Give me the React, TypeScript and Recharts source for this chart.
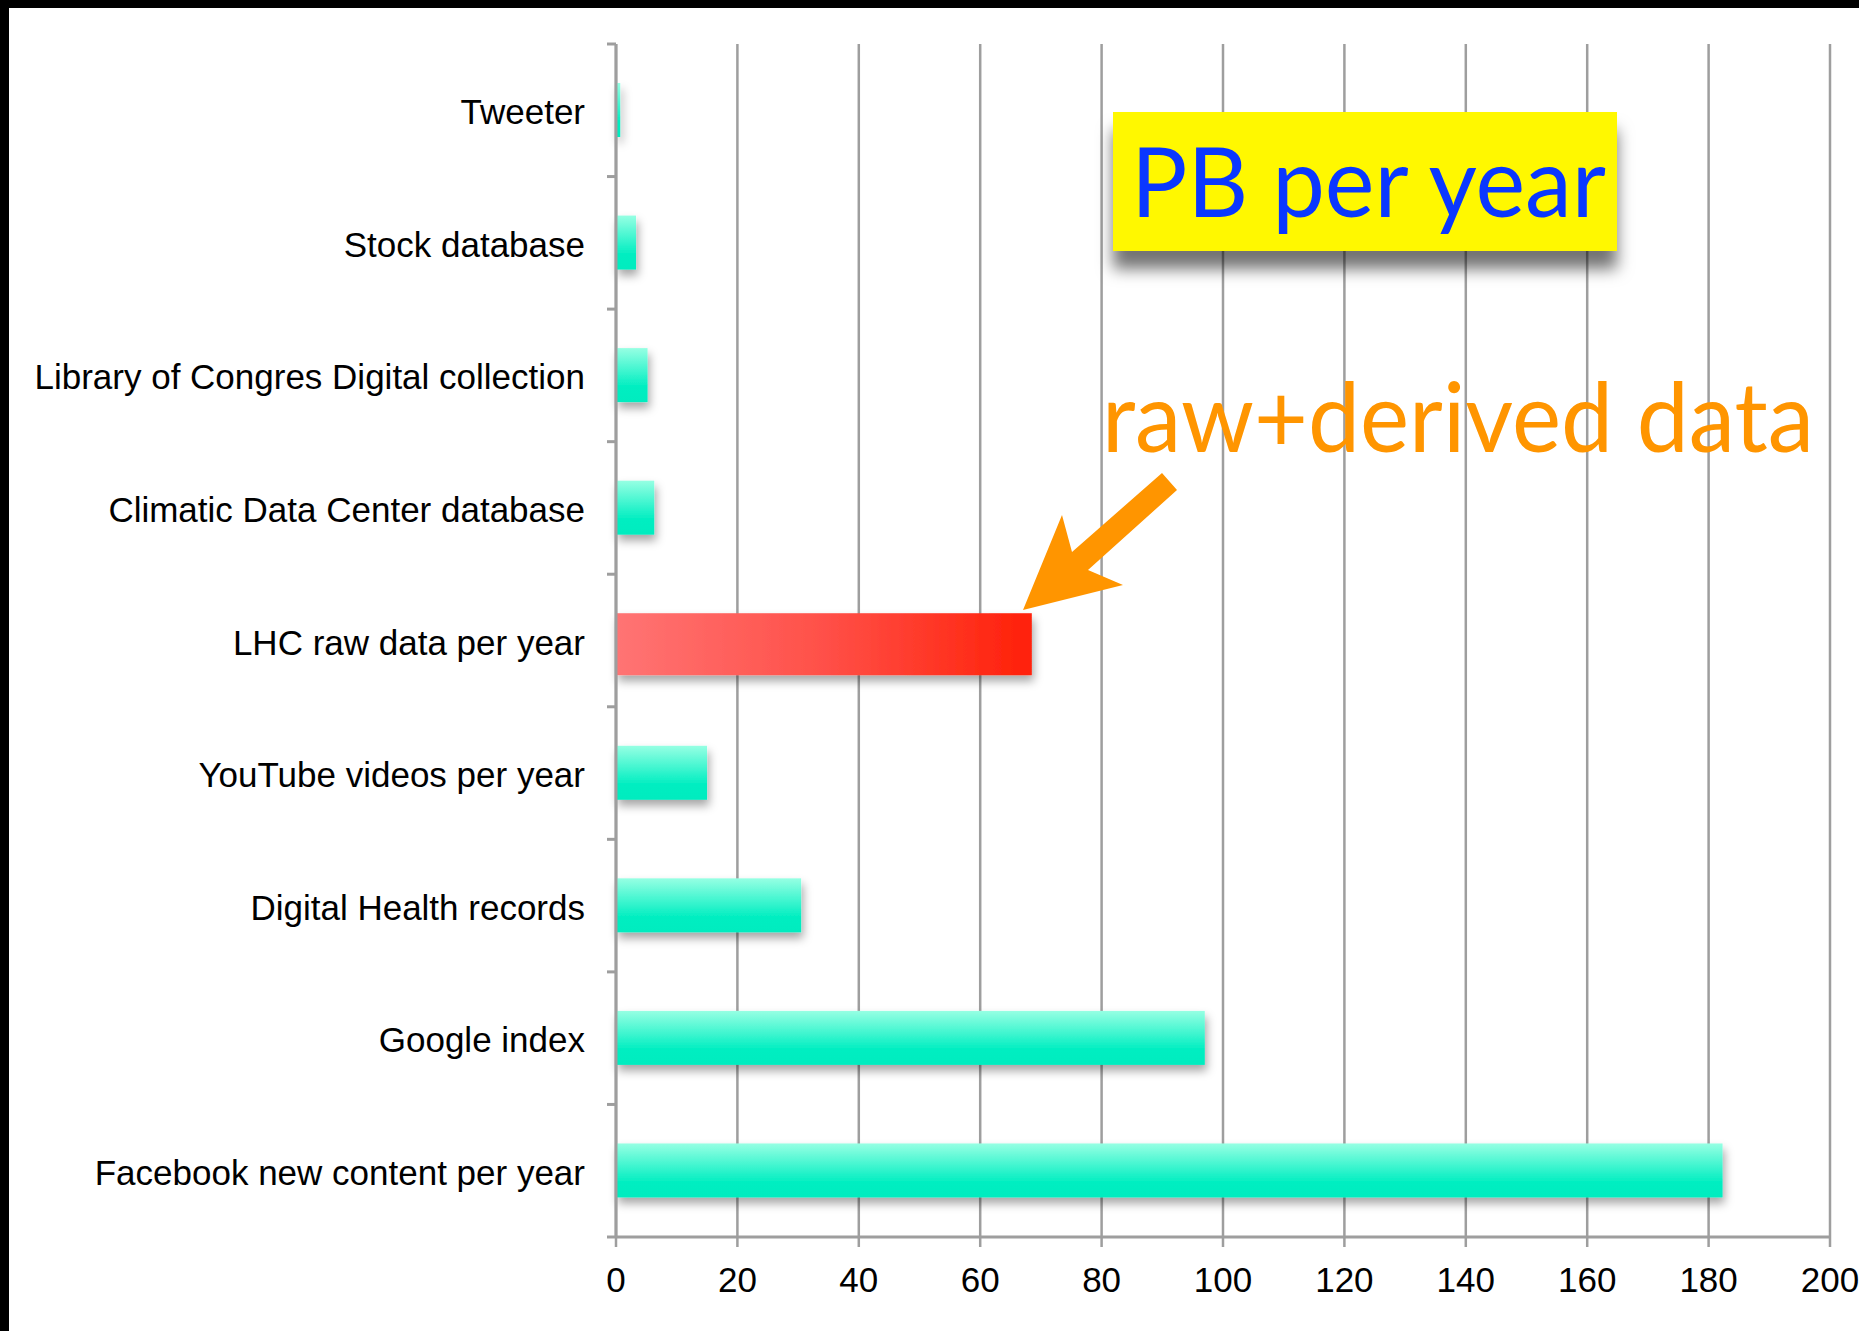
import React from "react";
import { BarChart, Bar, XAxis, YAxis, CartesianGrid } from "recharts";

const CATEGORIES = [
  "Tweeter",
  "Stock database",
  "Library of Congres Digital collection",
  "Climatic Data Center database",
  "LHC raw data per year",
  "YouTube videos per year",
  "Digital Health records",
  "Google index",
  "Facebook new content per year",
];
const VALUES = [0.7, 3.3, 5.2, 6.3, 68.5, 15, 30.5, 97, 182.3];
const X_TICKS = [0, 20, 40, 60, 80, 100, 120, 140, 160, 180, 200];
const HIGHLIGHT = "LHC raw data per year";
const TITLE = "PB per year";
const NOTE = "raw+derived data";

const data = CATEGORIES.map((name, i) => ({ name, value: VALUES[i] }));

const W = 1859;
const H = 1331;
const MARGIN = { top: 44, right: 29, bottom: 34, left: 0 };
const Y_AXIS_WIDTH = 616;
const X_AXIS_HEIGHT = 60;
const Y_TICK_SIZE = 9;
const Y_TICK_MARGIN = 22;
const GRAY = "#9e9e9e";
const FONT = "'Liberation Sans', Arial, Helvetica, sans-serif";

const PLOT_H = H - MARGIN.top - MARGIN.bottom - X_AXIS_HEIGHT;
const BAND_HALF = PLOT_H / CATEGORIES.length / 2;

const CategoryTick = (props: any) => {
  const { x, y, payload, index } = props;
  const half = payload && typeof payload.offset === "number" && payload.offset > 0 ? payload.offset : BAND_HALF;
  const x2 = x + Y_TICK_MARGIN + Y_TICK_SIZE;
  const x1 = x2 - Y_TICK_SIZE;
  return (
    <g>
      <text x={x} y={y} dy={14} textAnchor="end" fill="#000" fontSize={35} fontFamily={FONT}>
        {payload.value}
      </text>
      <line x1={x1} x2={x2} y1={y - half} y2={y - half} stroke={GRAY} strokeWidth={3} />
      {index === CATEGORIES.length - 1 && (
        <line x1={x1} x2={x2} y1={y + half} y2={y + half} stroke={GRAY} strokeWidth={3} />
      )}
    </g>
  );
};

const BarShape = (props: any) => {
  const { x, y, width, height, payload } = props;
  if (width <= 0 || height <= 0) return <g />;
  const hi = payload && payload.name === HIGHLIGHT;
  return (
    <rect
      x={x}
      y={y}
      width={width}
      height={hi ? height + 8 : height}
      fill={hi ? "url(#redGrad)" : "url(#tealGrad)"}
      filter="url(#barShadow)"
    />
  );
};

export default function App() {
  return (
    <div
      style={{
        position: "absolute",
        left: 0,
        top: 0,
        width: W,
        height: H,
        background: "#fff",
        overflow: "hidden",
      }}
    >
      <div style={{ position: "absolute", left: 0, top: 0 }}>
        <BarChart width={W} height={H} data={data} layout="vertical" margin={MARGIN}>
          <defs>
            <linearGradient id="tealGrad" x1="0" y1="0" x2="0" y2="1">
              <stop offset="0" stopColor="#96ffe3" />
              <stop offset="0.72" stopColor="#00eec1" />
              <stop offset="1" stopColor="#00ecbf" />
            </linearGradient>
            <linearGradient id="redGrad" x1="0" y1="0" x2="1" y2="0">
              <stop offset="0" stopColor="#ff7474" />
              <stop offset="0.5" stopColor="#ff5048" />
              <stop offset="1" stopColor="#ff2008" />
            </linearGradient>
            <filter id="barShadow" filterUnits="userSpaceOnUse" x="0" y="0" width={W} height={H}>
              <feDropShadow dx="2" dy="6" stdDeviation="5" floodColor="#000" floodOpacity="0.35" />
            </filter>
          </defs>
          <CartesianGrid horizontal={false} stroke={GRAY} strokeWidth={2.5} strokeDasharray="" />
          <XAxis
            type="number"
            domain={[0, 200]}
            ticks={X_TICKS}
            interval={0}
            height={X_AXIS_HEIGHT}
            tickSize={10}
            tickMargin={20}
            axisLine={{ stroke: GRAY, strokeWidth: 3 }}
            tickLine={{ stroke: GRAY, strokeWidth: 2.5 }}
            tick={{ fill: "#000", fontSize: 35, fontFamily: FONT }}
          />
          <YAxis
            type="category"
            dataKey="name"
            width={Y_AXIS_WIDTH}
            interval={0}
            tickSize={Y_TICK_SIZE}
            tickMargin={Y_TICK_MARGIN}
            tickLine={false}
            axisLine={{ stroke: GRAY, strokeWidth: 3 }}
            tick={<CategoryTick />}
          />
          <Bar dataKey="value" barSize={54} isAnimationActive={false} shape={<BarShape />} />
        </BarChart>
      </div>
      <svg
        width={W}
        height={H}
        style={{ position: "absolute", left: 0, top: 0, pointerEvents: "none" }}
      >
        <defs>
          <filter id="boxShadow" x="-10%" y="-20%" width="120%" height="160%">
            <feDropShadow dx="0" dy="18" stdDeviation="8" floodColor="#000" floodOpacity="0.55" />
          </filter>
        </defs>
        <rect x={1113} y={112} width={504} height={139} fill="#fff800" filter="url(#boxShadow)" />
        <text
          x={1131}
          y={217}
          fontSize={97}
          fontFamily="'Gill Sans', Lato, 'Open Sans', sans-serif"
          fill="#0a37ff"
          textLength={475}
          lengthAdjust="spacingAndGlyphs"
        >
          {TITLE}
        </text>
        <text
          x={1102}
          y={452}
          fontSize={97}
          fontFamily="'Gill Sans', Lato, 'Open Sans', sans-serif"
          fill="#ff9500"
          textLength={712}
          lengthAdjust="spacingAndGlyphs"
        >
          {NOTE}
        </text>
        <polygon
          points="1023,610 1062,515 1072,552 1162,473 1177,490 1088,570 1123,585"
          fill="#ff9500"
        />
      </svg>
      <div style={{ position: "absolute", left: 0, top: 0, width: W, height: 8, background: "#000" }} />
      <div style={{ position: "absolute", left: 0, top: 0, width: 9, height: H, background: "#000" }} />
    </div>
  );
}
